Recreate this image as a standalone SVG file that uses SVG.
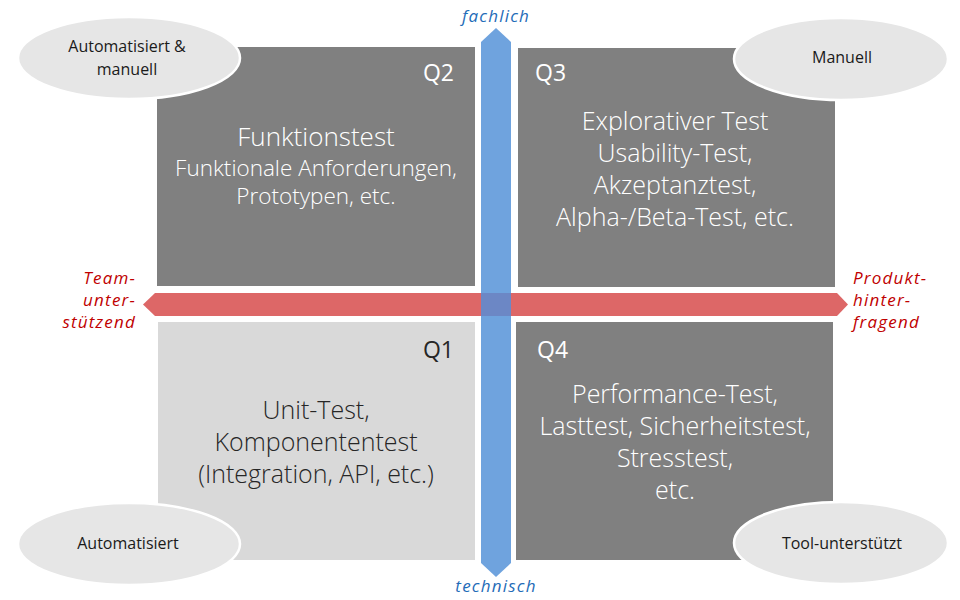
<svg xmlns="http://www.w3.org/2000/svg" width="960" height="600" viewBox="0 0 960 600">
<style>
.q{fill:#808080}
.q1{fill:#d9d9d9}
.big{font-family:"Open Sans","Noto Sans","Liberation Sans",sans-serif;font-weight:300;font-size:25px;text-anchor:middle;fill:#ffffff}
.ql{font-family:"Open Sans","Noto Sans","Liberation Sans",sans-serif;font-size:23px;fill:#ffffff}
.big.dark,.ql.dark{fill:#262626}
.el{fill:#e6e6e6;stroke:#ffffff;stroke-width:2.5}
.et{font-family:"Open Sans","Noto Sans","Liberation Sans",sans-serif;font-size:16px;text-anchor:middle;fill:#1a1a1a}
.ax{font-family:"Open Sans","Noto Sans","Liberation Sans",sans-serif;font-style:italic;font-size:17px;letter-spacing:1.2px}
.blue{fill:#1f6cb8}
.red{fill:#c00000}
</style>
<g id="connectors">
<polygon points="143,304.5 155,293 837,293 848,304.5 837,316 155,316" fill="#dd6767"/>
<polygon points="496,28 511,42 511,563 496,577 481,563 481,42" fill="#6fa3de"/>
<rect x="481" y="293" width="30" height="23" fill="#6c87c5"/>
</g>
<g id="q2">
<rect class="q" x="157" y="47" width="318" height="239"/>
<text class="ql" x="454" y="81" text-anchor="end">Q2</text>
<text class="big" x="316" y="146" style="font-size:26px">Funktionstest</text>
<text class="big" x="316" y="176" style="font-size:22.5px">Funktionale Anforderungen,</text>
<text class="big" x="316" y="204" style="font-size:22.5px">Prototypen, etc.</text>
</g>
<g id="q3">
<rect class="q" x="518" y="48" width="317" height="239"/>
<text class="ql" x="535" y="81">Q3</text>
<text class="big" x="675" y="130">Explorativer Test</text>
<text class="big" x="675" y="162">Usability-Test,</text>
<text class="big" x="675" y="194">Akzeptanztest,</text>
<text class="big" x="675" y="226">Alpha-/Beta-Test, etc.</text>
</g>
<g id="q1">
<rect class="q1" x="158" y="322" width="317" height="238"/>
<text class="ql dark" x="454" y="358" text-anchor="end">Q1</text>
<text class="big dark" x="316" y="419">Unit-Test,</text>
<text class="big dark" x="316" y="451">Komponententest</text>
<text class="big dark" x="316" y="483">(Integration, API, etc.)</text>
</g>
<g id="q4">
<rect class="q" x="516" y="322" width="317" height="238"/>
<text class="ql" x="537" y="358">Q4</text>
<text class="big" x="675" y="403">Performance-Test,</text>
<text class="big" x="675" y="435">Lasttest, Sicherheitstest,</text>
<text class="big" x="675" y="467">Stresstest,</text>
<text class="big" x="675" y="499">etc.</text>
</g>
<g id="e-auto-manuell">
<ellipse class="el" cx="129" cy="58" rx="111" ry="41"/>
<text class="et" x="127" y="52">Automatisiert &amp;</text>
<text class="et" x="127" y="75">manuell</text>
</g>
<g id="e-manuell">
<ellipse class="el" cx="841" cy="59" rx="107" ry="41"/>
<text class="et" x="842" y="63">Manuell</text>
</g>
<g id="e-auto">
<ellipse class="el" cx="129" cy="544" rx="111" ry="41"/>
<text class="et" x="128" y="549">Automatisiert</text>
</g>
<g id="e-tool">
<ellipse class="el" cx="841" cy="543" rx="107" ry="41"/>
<text class="et" x="842" y="549">Tool-unterstützt</text>
</g>
<g id="axis-labels">
<text class="ax blue" x="496" y="22" text-anchor="middle">fachlich</text>
<text class="ax blue" x="496" y="592" text-anchor="middle">technisch</text>
<text class="ax red" x="136" y="284" text-anchor="end">Team-</text>
<text class="ax red" x="136" y="306" text-anchor="end">unter-</text>
<text class="ax red" x="136" y="328" text-anchor="end">stützend</text>
<text class="ax red" x="853" y="284">Produkt-</text>
<text class="ax red" x="853" y="306">hinter-</text>
<text class="ax red" x="853" y="328">fragend</text>
</g>
</svg>
